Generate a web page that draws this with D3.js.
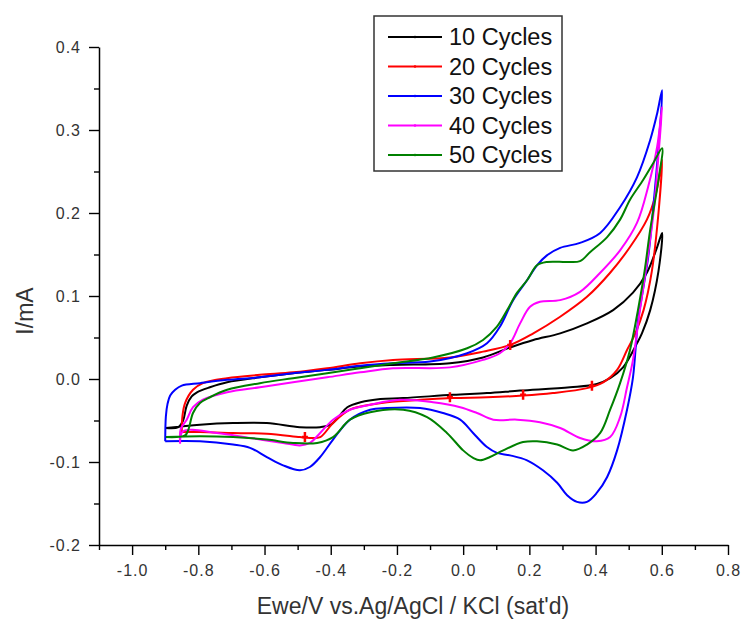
<!DOCTYPE html>
<html>
<head>
<meta charset="utf-8">
<script src="https://cdn.jsdelivr.net/npm/d3@7"></script>
<style>
  body { margin: 0; background: #fff; }
  text { font-family: "Liberation Sans", Arial, sans-serif; }
</style>
</head>
<body>
<div id="chart"></div>
<script>
// Cyclic voltammograms, each loop: anodic branch (left -> right) then cathodic branch (right -> left)
const cyc10E = [-0.898, -0.86, -0.846, -0.835, -0.82, -0.804, -0.765, -0.713, -0.614, -0.514, -0.411, -0.311, -0.212, -0.04, 0.06, 0.142, 0.212, 0.293, 0.374, 0.453, 0.513, 0.555, 0.586, 0.601,
  0.59, 0.565, 0.54, 0.525, 0.483, 0.444, 0.404, 0.323, 0.172, 0.072, -0.031, -0.181, -0.25, -0.31, -0.35, -0.375, -0.40, -0.432, -0.493, -0.593, -0.695, -0.795, -0.898];
const cyc10I = [-0.059, -0.058, -0.050, -0.032, -0.021, -0.016, -0.010, -0.004, 0.002, 0.007, 0.011, 0.015, 0.017, 0.019, 0.026, 0.038, 0.047, 0.055, 0.067, 0.083, 0.104, 0.128, 0.159, 0.176,
  0.130, 0.083, 0.055, 0.043, 0.014, 0.001, -0.006, -0.010, -0.014, -0.017, -0.019, -0.023, -0.024, -0.028, -0.034, -0.045, -0.055, -0.058, -0.058, -0.053, -0.053, -0.055, -0.059];

const cyc20E = [-0.85, -0.848, -0.84, -0.816, -0.786, -0.713, -0.614, -0.514, -0.411, -0.311, -0.212, -0.04, 0.06, 0.142, 0.212, 0.293, 0.374, 0.444, 0.504, 0.555, 0.58, 0.595, 0.601,
  0.59, 0.57, 0.545, 0.52, 0.495, 0.465, 0.423, 0.374, 0.271, 0.181, 0.072, -0.031, -0.13, -0.23, -0.281, -0.342, -0.393, -0.432, -0.463, -0.493, -0.593, -0.695, -0.795, -0.85];
const cyc20I = [-0.064, -0.045, -0.029, -0.013, -0.005, 0.001, 0.005, 0.008, 0.013, 0.019, 0.023, 0.026, 0.033, 0.041, 0.055, 0.075, 0.099, 0.128, 0.159, 0.192, 0.220, 0.250, 0.264,
  0.200, 0.130, 0.083, 0.055, 0.035, 0.011, -0.004, -0.011, -0.017, -0.020, -0.022, -0.023, -0.025, -0.028, -0.031, -0.037, -0.053, -0.070, -0.071, -0.070, -0.066, -0.065, -0.064, -0.064];

const cyc30E = [-0.9, -0.898, -0.893, -0.885, -0.87, -0.85, -0.795, -0.713, -0.614, -0.514, -0.411, -0.311, -0.212, -0.1, 0.012, 0.072, 0.111, 0.151, 0.193, 0.223, 0.253, 0.293, 0.353, 0.414, 0.474, 0.525, 0.565, 0.586, 0.601,
  0.59, 0.575, 0.559, 0.54, 0.528, 0.513, 0.495, 0.465, 0.435, 0.404, 0.374, 0.344, 0.314, 0.284, 0.241, 0.193, 0.142, 0.102, 0.072, 0.03, -0.009, -0.061, -0.13, -0.23, -0.281, -0.342, -0.393, -0.432, -0.463, -0.493, -0.544, -0.593, -0.644, -0.695, -0.795, -0.9];
const cyc30I = [-0.075, -0.045, -0.030, -0.020, -0.013, -0.008, -0.005, -0.001, 0.002, 0.007, 0.011, 0.016, 0.019, 0.021, 0.031, 0.043, 0.063, 0.095, 0.119, 0.137, 0.149, 0.158, 0.164, 0.176, 0.207, 0.243, 0.288, 0.320, 0.348,
  0.280, 0.210, 0.147, 0.100, 0.070, 0.002, -0.037, -0.086, -0.118, -0.137, -0.148, -0.148, -0.140, -0.125, -0.110, -0.098, -0.092, -0.089, -0.082, -0.065, -0.049, -0.041, -0.035, -0.035, -0.037, -0.049, -0.073, -0.094, -0.106, -0.110, -0.104, -0.094, -0.083, -0.079, -0.075, -0.075];

const cyc40E = [-0.855, -0.853, -0.835, -0.816, -0.786, -0.713, -0.614, -0.514, -0.411, -0.311, -0.212, -0.04, 0.06, 0.111, 0.142, 0.172, 0.202, 0.232, 0.293, 0.353, 0.414, 0.474, 0.525, 0.559, 0.586, 0.601,
  0.59, 0.575, 0.555, 0.534, 0.513, 0.495, 0.474, 0.444, 0.404, 0.353, 0.293, 0.232, 0.163, 0.091, 0.042, -0.009, -0.091, -0.191, -0.281, -0.342, -0.393, -0.432, -0.463, -0.493, -0.544, -0.644, -0.744, -0.846, -0.855];
const cyc40I = [-0.078, -0.060, -0.049, -0.034, -0.025, -0.016, -0.010, -0.004, 0.002, 0.008, 0.013, 0.014, 0.023, 0.031, 0.043, 0.067, 0.087, 0.093, 0.095, 0.105, 0.128, 0.155, 0.188, 0.232, 0.280, 0.328,
  0.270, 0.200, 0.140, 0.083, 0.023, -0.010, -0.046, -0.070, -0.075, -0.071, -0.059, -0.052, -0.049, -0.049, -0.041, -0.034, -0.028, -0.025, -0.031, -0.037, -0.049, -0.065, -0.077, -0.080, -0.077, -0.071, -0.065, -0.063, -0.078];

const cyc50E = [-0.898, -0.84, -0.83, -0.816, -0.795, -0.765, -0.713, -0.614, -0.514, -0.411, -0.311, -0.212, -0.091, 0.012, 0.06, 0.102, 0.133, 0.163, 0.193, 0.223, 0.253, 0.314, 0.353, 0.384, 0.435, 0.474, 0.504, 0.544, 0.574, 0.601,
  0.59, 0.565, 0.548, 0.528, 0.504, 0.474, 0.444, 0.414, 0.374, 0.332, 0.284, 0.223, 0.181, 0.121, 0.081, 0.051, 0.03, 0.0, -0.049, -0.109, -0.181, -0.281, -0.342, -0.393, -0.441, -0.514, -0.593, -0.695, -0.795, -0.898];
const cyc50I = [-0.070, -0.068, -0.061, -0.041, -0.029, -0.022, -0.013, -0.005, 0.001, 0.007, 0.013, 0.019, 0.026, 0.037, 0.047, 0.063, 0.083, 0.104, 0.119, 0.137, 0.141, 0.141, 0.142, 0.153, 0.171, 0.192, 0.216, 0.240, 0.260, 0.278,
  0.240, 0.180, 0.130, 0.083, 0.035, -0.005, -0.037, -0.065, -0.079, -0.086, -0.079, -0.075, -0.076, -0.086, -0.094, -0.098, -0.095, -0.086, -0.065, -0.046, -0.037, -0.040, -0.049, -0.070, -0.077, -0.077, -0.073, -0.070, -0.069, -0.070];

// symbol positions visible on the 20-cycle trace
const markE20 = [-0.478, -0.04, 0.181, 0.142, 0.389];
const markI20 = [-0.070, -0.022, -0.019, 0.041, -0.008];

const seriesNames = ['10 Cycles', '20 Cycles', '30 Cycles', '40 Cycles', '50 Cycles'];
const seriesColors = ['#000000', '#ff0000', '#0000ff', '#ff00ff', '#008000'];
const seriesE = [cyc10E, cyc20E, cyc30E, cyc40E, cyc50E];
const seriesI = [cyc10I, cyc20I, cyc30I, cyc40I, cyc50I];

const xMajor = [-1.0, -0.8, -0.6, -0.4, -0.2, 0.0, 0.2, 0.4, 0.6, 0.8];
const xMinor = [-1.1, -0.9, -0.7, -0.5, -0.3, -0.1, 0.1, 0.3, 0.5, 0.7];
const yMajor = [-0.2, -0.1, 0.0, 0.1, 0.2, 0.3, 0.4];
const yMinor = [-0.15, -0.05, 0.05, 0.15, 0.25, 0.35];

const W = 741, H = 620;
const plot = { left: 99, right: 728, top: 47, bottom: 545 };

const svg = d3.select('#chart').append('svg')
  .attr('width', W)
  .attr('height', H)
  .style('background', '#fff');

const x = d3.scaleLinear().domain([-1.1, 0.8]).range([plot.left, plot.right]);
const y = d3.scaleLinear().domain([-0.2, 0.4]).range([plot.bottom, plot.top]);

const fmt = d => d.toFixed(1);

// minor ticks
svg.append('g')
  .attr('transform', `translate(0,${plot.bottom})`)
  .call(d3.axisBottom(x).tickValues(xMinor).tickSize(5).tickSizeOuter(0).tickFormat(''))
  .call(g => g.select('.domain').remove());
svg.append('g')
  .attr('transform', `translate(${plot.left},0)`)
  .call(d3.axisLeft(y).tickValues(yMinor).tickSize(5).tickSizeOuter(0).tickFormat(''))
  .call(g => g.select('.domain').remove());

// major axes
const xAxis = svg.append('g')
  .attr('transform', `translate(0,${plot.bottom})`)
  .call(d3.axisBottom(x).tickValues(xMajor).tickSize(10).tickSizeOuter(0).tickPadding(10).tickFormat(fmt));
const yAxis = svg.append('g')
  .attr('transform', `translate(${plot.left},0)`)
  .call(d3.axisLeft(y).tickValues(yMajor).tickSize(10).tickSizeOuter(0).tickPadding(8).tickFormat(fmt));

svg.selectAll('.tick line').attr('stroke', '#000').attr('stroke-width', 1.4);
svg.selectAll('.domain').attr('stroke', '#000').attr('stroke-width', 1.5);
[xAxis, yAxis].forEach(g => g.selectAll('text')
  .attr('fill', '#333')
  .style('font-size', '16px')
  .style('letter-spacing', '1px')
  .style('font-family', '"Liberation Sans", Arial, sans-serif'));

// axis titles
svg.append('text')
  .attr('x', 413)
  .attr('y', 614)
  .attr('text-anchor', 'middle')
  .attr('fill', '#333')
  .style('font-size', '23px')
  .text("Ewe/V vs.Ag/AgCl / KCl (sat'd)");

svg.append('text')
  .attr('transform', 'translate(33,311) rotate(-90)')
  .attr('text-anchor', 'middle')
  .attr('fill', '#333')
  .style('font-size', '23px')
  .text('I/mA');

// curves
const line = d3.line()
  .x(d => x(d[0]))
  .y(d => y(d[1]))
  .curve(d3.curveCatmullRom.alpha(0.5));

seriesNames.forEach((name, i) => {
  svg.append('path')
    .datum(d3.zip(seriesE[i], seriesI[i]))
    .attr('fill', 'none')
    .attr('stroke', seriesColors[i])
    .attr('stroke-width', 2)
    .attr('stroke-linejoin', 'round')
    .attr('d', line);
});

// red symbols
d3.zip(markE20, markI20).forEach(([e, c]) => {
  const px = x(e), py = y(c);
  svg.append('path')
    .attr('d', `M${px - 3},${py}H${px + 3}M${px},${py - 5}V${py + 5}`)
    .attr('stroke', '#ff0000')
    .attr('stroke-width', 2.5)
    .attr('fill', 'none');
});

// legend
const legend = svg.append('g');
legend.append('rect')
  .attr('x', 374)
  .attr('y', 16)
  .attr('width', 188)
  .attr('height', 155)
  .attr('fill', '#fff')
  .attr('stroke', '#333')
  .attr('stroke-width', 1.5);

seriesNames.forEach((name, i) => {
  const ly = 37 + i * 29.5;
  legend.append('line')
    .attr('x1', 388).attr('x2', 442)
    .attr('y1', ly).attr('y2', ly)
    .attr('stroke', seriesColors[i])
    .attr('stroke-width', 1.8);
  legend.append('circle')
    .attr('cx', 415).attr('cy', ly).attr('r', 1.3)
    .attr('fill', seriesColors[i]);
  legend.append('text')
    .attr('x', 449)
    .attr('y', ly + 8)
    .attr('fill', '#111')
    .style('font-size', '23.5px')
    .text(name);
});
</script>
</body>
</html>
